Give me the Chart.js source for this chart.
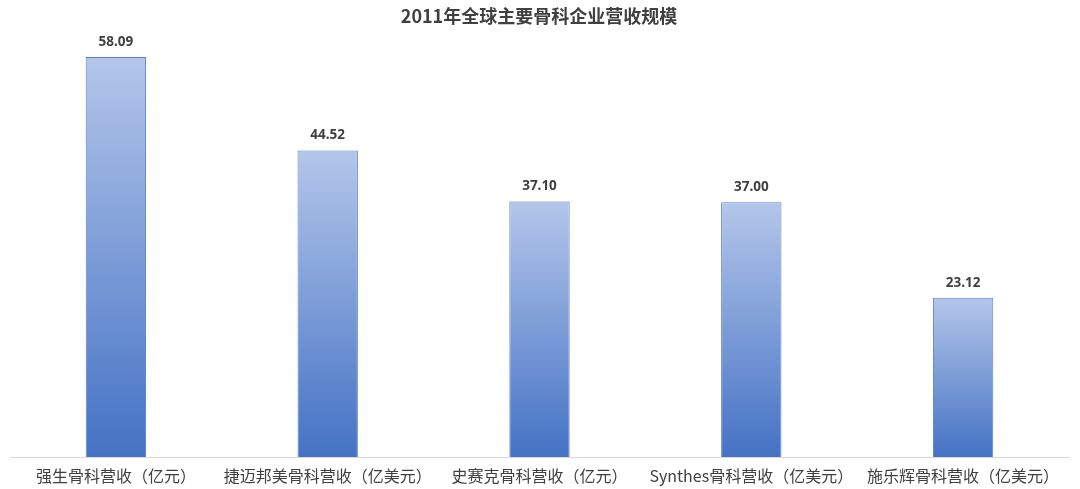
<!DOCTYPE html>
<html><head><meta charset="utf-8">
<script src="https://cdn.jsdelivr.net/npm/chart.js@4.4.0/dist/chart.umd.min.js"></script>
<style>html,body{margin:0;padding:0;background:#fff;}#wrap{width:1080px;height:489px;}</style>
</head><body><div id="wrap"><canvas id="c" width="1080" height="489"></canvas></div>
<script>
const titleText = "2011年全球主要骨科企业营收规模";
const categories = ["强生骨科营收（亿元）","捷迈邦美骨科营收（亿美元）","史赛克骨科营收（亿元）","Synthes骨科营收（亿美元）","施乐辉骨科营收（亿美元）"];
const values = [58.09, 44.52, 37.10, 37.00, 23.12];

const labelPlugin = {
  id: 'vlabels',
  afterDatasetsDraw(chart) {
    const ctx = chart.ctx;
    const meta = chart.getDatasetMeta(0);
    const xs = chart.scales.x;
    ctx.save();
    ctx.font = "bold 13.5px 'Noto Sans', 'DejaVu Sans', sans-serif";
    ctx.fillStyle = '#404040';
    ctx.textAlign = 'center';
    ctx.textBaseline = 'middle';
    meta.data.forEach((bar, i) => {
      ctx.fillText(values[i].toFixed(2), bar.x, bar.y - 15);
    });
    ctx.font = "16px 'Noto Sans CJK SC', sans-serif";
    categories.forEach((lab, i) => {
      ctx.fillText(lab, xs.getPixelForTick(i), chart.chartArea.bottom + 19);
    });
    ctx.font = "bold 18px 'Noto Sans CJK SC', sans-serif";
    ctx.fillText(titleText, 539, 16);
    ctx.restore();
  }
};

const ctx = document.getElementById('c').getContext('2d');
new Chart(ctx, {
  type: 'bar',
  data: {
    labels: categories,
    datasets: [{
      data: values,
      backgroundColor: (c) => {
        const chart = c.chart;
        const ys = chart.scales && chart.scales.y;
        if (!ys || !chart.chartArea || c.parsed === undefined) return '#4472c4';
        const top = ys.getPixelForValue(c.parsed.y);
        const bot = ys.getPixelForValue(0);
        const g = chart.ctx.createLinearGradient(0, top, 0, bot);
        g.addColorStop(0, '#b4c6ea');
        g.addColorStop(1, '#4472c4');
        return g;
      },
      borderColor: '#5a7fcb',
      borderWidth: 1,
      barPercentage: 0.57,
      categoryPercentage: 0.5
    }]
  },
  options: {
    responsive: false,
    animation: false,
    devicePixelRatio: 1,
    layout: { padding: { left: 10, right: 11, top: 30, bottom: 32 } },
    plugins: {
      legend: { display: false },
      tooltip: { enabled: false },
      title: { display: false }
    },
    scales: {
      x: {
        grid: { display: false, drawTicks: false },
        border: { display: true, color: '#d9d9d9', width: 1 },
        ticks: { display: false }
      },
      y: {
        display: false,
        min: 0,
        max: 62.0
      }
    }
  },
  plugins: [labelPlugin]
});
</script></body></html>
